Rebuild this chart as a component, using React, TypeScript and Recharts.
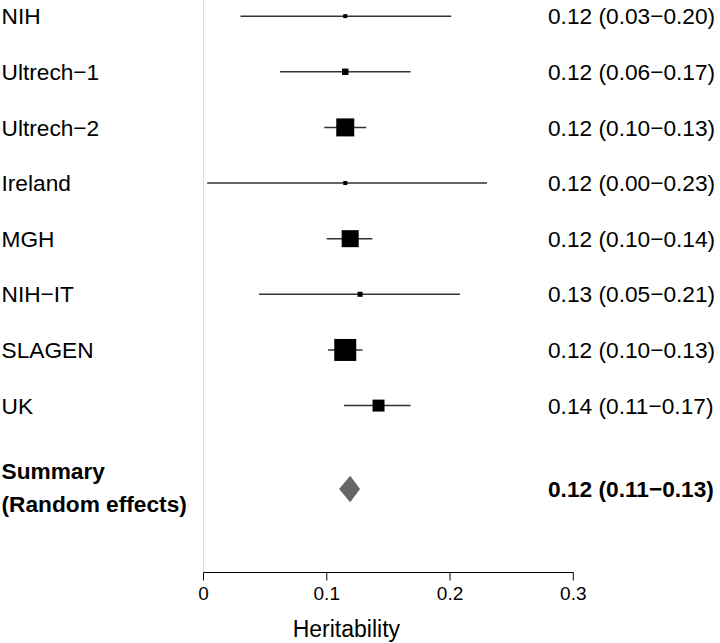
import React from 'react';
import { ComposedChart, Scatter, XAxis, YAxis, ErrorBar, ReferenceLine, Label } from 'recharts';

const studies = ['NIH', 'Ultrech−1', 'Ultrech−2', 'Ireland', 'MGH', 'NIH−IT', 'SLAGEN', 'UK'];
const estimates = [0.115, 0.115, 0.115, 0.115, 0.119, 0.127, 0.115, 0.142];
const lower = [0.03, 0.062, 0.098, 0.003, 0.1, 0.045, 0.101, 0.114];
const upper = [0.201, 0.168, 0.132, 0.23, 0.137, 0.208, 0.129, 0.168];
const weights = [1.2, 3.1, 24.2, 1.2, 21.6, 1.9, 36.1, 10.7];
const ciLabels = [
  '0.12 (0.03−0.20)',
  '0.12 (0.06−0.17)',
  '0.12 (0.10−0.13)',
  '0.12 (0.00−0.23)',
  '0.12 (0.10−0.14)',
  '0.13 (0.05−0.21)',
  '0.12 (0.10−0.13)',
  '0.14 (0.11−0.17)',
];

const summaryLines = ['Summary', '(Random effects)'];
const summaryEstimate = 0.119;
const summaryLower = 0.11;
const summaryUpper = 0.127;
const summaryLabel = '0.12 (0.11−0.13)';

const xTicks = [0, 0.1, 0.2, 0.3];

const W = 720;
const H = 643;
const LEFT_W = 203.5;
const RIGHT_W = 146.7;
const X_AXIS_H = 70.5;
const FONT = '"Liberation Sans", Arial, Helvetica, sans-serif';
const LABEL_SIZE = 22.7;
const X_DOMAIN: [number, number] = [0, 0.3];
const PX_PER_UNIT = (W - LEFT_W - RIGHT_W) / (X_DOMAIN[1] - X_DOMAIN[0]);
const BOX_SCALE = 3.66;
const RIGHT_TEXT_X = 548;

// summary sits one and a half rows below the last study
const summaryRow = studies.length + 0.5;

const studyData = studies.map((name, i) => ({
  name,
  row: i,
  est: estimates[i],
  err: [estimates[i] - lower[i], upper[i] - estimates[i]],
  weight: weights[i],
}));

const summaryData = [{ row: summaryRow, est: summaryEstimate, lo: summaryLower, hi: summaryUpper }];

const rowTicks = [...studies.map((_, i) => i), summaryRow];

const RowTick = (props: any) => {
  const { y, payload } = props;
  if (payload.value === summaryRow) {
    return (
      <g>
        <text x={1.5} y={y} fontFamily={FONT} fontSize={LABEL_SIZE} fontWeight="bold" fill="#000">
          <tspan x={1.5} dy={-10.5}>{summaryLines[0]}</tspan>
          <tspan x={1.5} dy={33.5}>{summaryLines[1]}</tspan>
        </text>
        <text x={RIGHT_TEXT_X} y={y} dy="0.36em" fontFamily={FONT} fontSize={LABEL_SIZE} fontWeight="bold" fill="#000">
          {summaryLabel}
        </text>
      </g>
    );
  }
  return (
    <g>
      <text x={1.5} y={y} dy="0.36em" fontFamily={FONT} fontSize={LABEL_SIZE} fill="#000">
        {studies[payload.value]}
      </text>
      <text x={RIGHT_TEXT_X} y={y} dy="0.36em" fontFamily={FONT} fontSize={LABEL_SIZE} fill="#000">
        {ciLabels[payload.value]}
      </text>
    </g>
  );
};

const BoxShape = (props: any) => {
  const { cx, cy, payload } = props;
  const s = BOX_SCALE * Math.sqrt(payload.weight);
  return <rect x={cx - s / 2} y={cy - s / 2} width={s} height={s} fill="#000" />;
};

const DiamondShape = (props: any) => {
  const { cx, cy, payload } = props;
  const l = cx - (payload.est - payload.lo) * PX_PER_UNIT;
  const r = cx + (payload.hi - payload.est) * PX_PER_UNIT;
  const h = 13.3;
  return <polygon points={`${l},${cy} ${cx},${cy - h} ${r},${cy} ${cx},${cy + h}`} fill="#666666" />;
};

export default function App() {
  return (
    <div style={{ position: 'absolute', left: 0, top: 0, width: W, height: H, background: '#fff' }}>
      <ComposedChart width={W} height={H} margin={{ top: 0, right: RIGHT_W, bottom: 0, left: 0 }}>
        <XAxis
          type="number"
          dataKey="est"
          domain={X_DOMAIN}
          ticks={xTicks}
          height={X_AXIS_H}
          tickSize={8}
          tickMargin={6}
          axisLine={{ stroke: '#000', strokeWidth: 1 }}
          tickLine={{ stroke: '#000', strokeWidth: 1 }}
          tick={{ fill: '#000', fontSize: 19, fontFamily: FONT }}
          tickFormatter={(v: number) => (v === 0 ? '0' : String(v))}
        >
          <Label
            value="Heritability"
            position="insideBottom"
            offset={6}
            dx={-42}
            style={{ fill: '#000', fontSize: 23, fontFamily: FONT }}
          />
        </XAxis>
        <YAxis
          type="number"
          dataKey="row"
          orientation="left"
          width={LEFT_W}
          domain={[-0.29, 10]}
          reversed
          ticks={rowTicks}
          interval={0}
          axisLine={false}
          tickLine={false}
          tick={<RowTick />}
        />
        <ReferenceLine x={0} stroke="#d9d9d9" strokeWidth={1} />
        <Scatter data={studyData} dataKey="est" shape={<BoxShape />} isAnimationActive={false}>
          <ErrorBar dataKey="err" direction="x" width={0} stroke="#333" strokeWidth={1.5} isAnimationActive={false} />
        </Scatter>
        <Scatter data={summaryData} dataKey="est" shape={<DiamondShape />} isAnimationActive={false} />
      </ComposedChart>
    </div>
  );
}
